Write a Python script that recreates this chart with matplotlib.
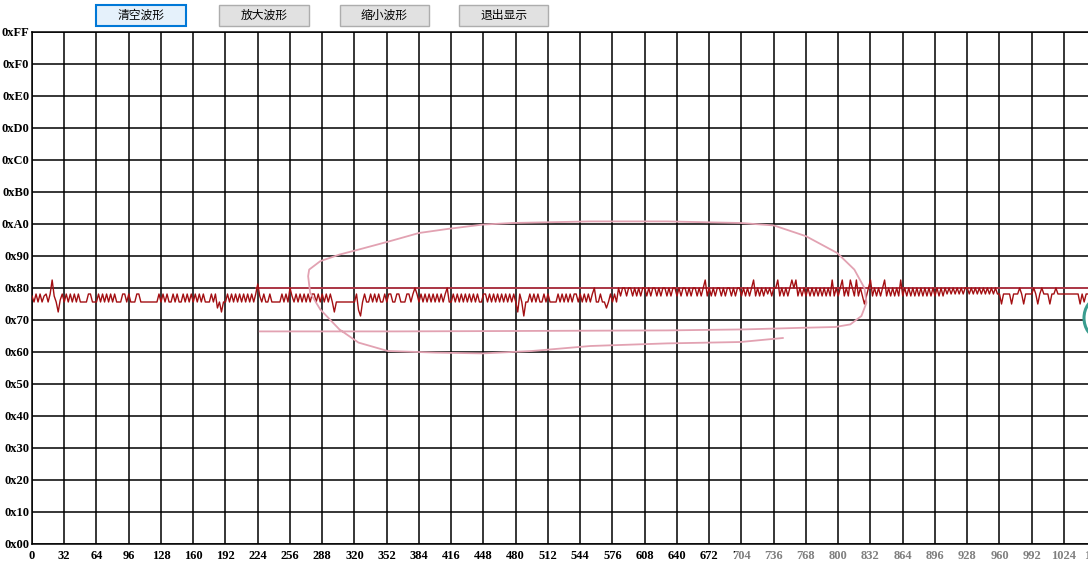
import matplotlib.pyplot as plt
import numpy as np
from matplotlib.patches import Rectangle, Ellipse

wave_low_a = [
    124, 121, 125, 121, 125, 121, 124, 125, 121, 125, 132, 124, 121, 116, 122, 125,
    121, 125, 121, 125, 121, 125, 121, 125, 121, 121, 121, 121, 125, 125, 121, 121,
    121, 125, 121, 125, 121, 125, 121, 125, 121, 125, 121, 121, 121, 125, 125, 121,
    125, 121, 121, 121, 125, 125, 121, 121, 121, 121, 121, 121, 121, 121, 121, 125,
    121, 125, 121, 125, 121, 121, 125, 121, 125, 121, 121, 125, 121, 125, 121, 125,
    121, 125, 121, 125, 121, 125, 121, 121, 121, 125, 121, 125, 118, 121, 116, 121,
    121, 125, 121, 125, 121, 125, 121, 125, 121, 125, 121, 125, 121, 125, 121, 125,
    130, 124, 121, 125, 121, 121, 125, 121, 121, 121, 121, 121, 125, 121, 125, 121,
    128, 124, 121, 125, 121, 125, 121, 125, 121, 125, 121, 125, 125, 121, 125, 121,
]
wave_low_b = [
    125, 121, 125, 121, 125, 121, 116, 121, 121, 121, 121, 121, 121, 121, 121, 121,
    121, 125, 117, 114, 121, 125, 121, 121, 125, 121, 125, 121, 125, 121, 121, 125,
    121, 125, 125, 121, 121, 125, 125, 121, 121, 121, 125, 125, 121, 125, 128, 125,
    121, 125, 121, 125, 121, 125, 121, 125, 121, 125, 121, 125, 121, 125, 128, 121,
    121, 125, 121, 125, 121, 125, 121, 125, 121, 125, 121, 125, 121, 125, 121, 121,
    125, 125, 121, 125, 121, 125, 121, 125, 121, 125, 121, 125, 121, 125, 121, 125,
    121, 116, 125, 121, 114, 121, 121, 125, 121, 125, 121, 125, 121, 121, 125, 121,
    125, 121, 121, 121, 121, 125, 121, 125, 121, 125, 121, 125, 121, 125, 125, 121,
    125, 121, 125, 121, 125, 121, 125, 128, 121, 121, 125, 121, 121, 118, 121, 125,
]
wave_high = [
    121, 125, 121, 128, 124, 128, 128, 124, 128, 128, 124, 128, 124, 128, 124, 128,
    128, 124, 128, 124, 128, 128, 124, 128, 124, 128, 128, 124, 128, 124, 128, 128,
    124, 128, 124, 128, 128, 124, 128, 124, 128, 128, 124, 128, 124, 128, 132, 124,
    128, 124, 128, 124, 128, 128, 124, 128, 124, 128, 128, 124, 128, 124, 128, 128,
    124, 128, 124, 128, 124, 128, 132, 124, 128, 124, 128, 124, 128, 125, 128, 124,
    128, 128, 132, 124, 128, 124, 128, 124, 128, 132, 128, 132, 124, 128, 124, 128,
    124, 128, 124, 128, 124, 128, 124, 128, 124, 128, 124, 128, 124, 132, 124, 128,
    124, 128, 132, 124, 128, 124, 132, 128, 124, 132, 124, 128, 124, 120, 124, 128,
    132, 124, 128, 124, 128, 124, 128, 132, 124, 128, 124, 128, 124, 128, 124, 132,
    124, 128, 124, 128, 124, 128, 124, 128, 124, 128, 124, 128, 124, 128, 124, 128,
    124, 128, 124, 128, 124, 128, 125, 128, 125, 128, 125, 128, 125, 128, 125, 128,
    128, 125, 128, 125, 128, 125, 128, 125, 128, 125, 128, 125, 128, 125, 128, 125,
]
wave_tail = [
    125, 120, 125, 125, 125, 125, 120, 125, 125, 125, 128, 125, 120, 125, 125, 125,
    125, 128, 125, 120, 125, 128, 125, 125, 125, 120, 125, 125, 128, 125, 125, 125,
    125, 125, 125, 125, 125, 125, 125, 125, 120, 125, 121, 125, 125, 125, 125, 125,
]
sample_step = 2

# hand-drawn marks on the screenshot (data units)
circle_x = [745, 703, 630, 554, 496, 447, 401, 353, 324, 305, 286, 276, 274, 275,
            286, 305, 324, 355, 384, 412, 447, 477, 554, 630, 703, 736, 768, 799,
            816, 826, 828, 823, 812, 797, 764, 707, 630, 477, 362, 248, 226]
circle_y = [103, 101, 100.3, 99, 96.5, 95.3, 95.7, 96.5, 100.7, 107.3, 117.3, 125.6,
            133.9, 137.2, 141.4, 144.7, 147.2, 151.4, 155.5, 157.5, 159.7, 160.5,
            161.3, 161.3, 160.5, 159.3, 153.9, 145.5, 137.2, 128, 120.6, 114, 109.8,
            108.5, 108.1, 107.3, 106.8, 106.5, 106.3, 106.3, 106.3]
mark_line_x = [222, 1080]
mark_line_y = [128, 128]

x_ticks = list(range(0, 1057, 32))
y_ticks = list(range(0, 257, 16))
y_labels = ['0x%X0' % (v // 16) if v < 256 else '0xFF' for v in y_ticks]
y_labels[0] = '0x00'

buttons = ['清空波形', '放大波形', '缩小波形', '退出显示']
button_px = [(96, 186), (219, 309), (340, 429), (459, 548)]

wave = wave_low_a + wave_low_b + wave_high + wave_tail
wave_x = np.arange(len(wave)) * sample_step

W, H = 1088, 576
fig = plt.figure(figsize=(W / 100, H / 100), dpi=100)
fig.patch.set_facecolor('white')
ax = fig.add_axes([32 / W, 32 / H, 1080 * 1.0078 / W, 512 / H])
ax.set_xlim(0, 1080)
ax.set_ylim(0, 256)

ax.set_xticks(x_ticks)
ax.set_xticklabels([str(v) for v in x_ticks])
ax.set_yticks(y_ticks)
ax.set_yticklabels(y_labels)
ax.tick_params(length=0)
ax.tick_params(axis='x', pad=4)
ax.tick_params(axis='y', pad=2)
for lab in ax.get_xticklabels() + ax.get_yticklabels():
    lab.set_fontfamily('Liberation Serif')
    lab.set_fontweight('bold')
    lab.set_fontsize(9)
ax.grid(True, color='black', lw=1.1)
for sp in ax.spines.values():
    sp.set_color('black')
    sp.set_linewidth(1.1)

ax.plot(mark_line_x, mark_line_y, color='#c43a4c', lw=1.2, zorder=3)
ax.plot(wave_x, wave, color='#a30f12', lw=1.0, zorder=4)
ax.plot(circle_x, circle_y, color='#e2a2b2', lw=1.3, zorder=5)

for (x0, x1), name in zip(button_px, buttons):
    focused = name == buttons[0]
    fig.patches.append(Rectangle((x0 / W, (H - 26) / H), (x1 - x0) / W, 21 / H,
                                 transform=fig.transFigure,
                                 facecolor='#e5f1fb' if focused else '#e1e1e1',
                                 edgecolor='#0078d7' if focused else '#adadad',
                                 lw=1.5 if focused else 1.0))
    fig.text((x0 + x1) / 2 / W, (H - 15.5) / H, name, ha='center', va='center',
             fontsize=8.5, family=['Noto Sans CJK SC', 'DejaVu Sans'])

# teal blob cut by the right edge, and the faded watermark strip
fig.patches.append(Ellipse((1098 / W, (H - 318) / H), 28 / W, 38 / H,
                           transform=fig.transFigure, facecolor='white',
                           edgecolor='#3a9d8f', lw=2.2))
fig.patches.append(Rectangle((735 / W, 4 / H), 353 / W, 22 / H, transform=fig.transFigure,
                             facecolor='white', alpha=0.5, edgecolor='none'))

fig.savefig('out.png', dpi=100)
